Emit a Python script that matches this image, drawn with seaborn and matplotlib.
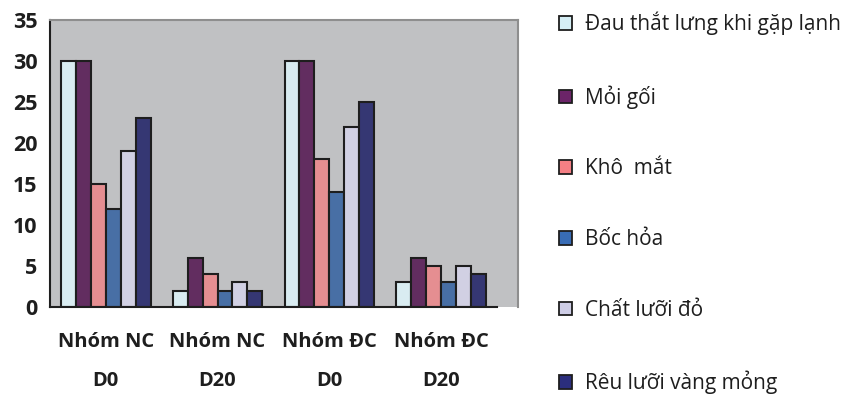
import pandas as pd
import numpy as np
import matplotlib
matplotlib.use("Agg")
import matplotlib.pyplot as plt
import seaborn as sns

# du lieu doc tu bieu do
groups = ["Nhóm NC\nD0", "Nhóm NC\nD20", "Nhóm ĐC\nD0", "Nhóm ĐC\nD20"]
symptoms = ["Đau thắt lưng khi gặp lạnh", "Mỏi gối", "Khô  mắt",
            "Bốc hỏa", "Chất lưỡi đỏ", "Rêu lưỡi vàng mỏng"]
dau_that_lung = [30, 2, 30, 3]
moi_goi = [30, 6, 30, 6]
kho_mat = [15, 4, 18, 5]
boc_hoa = [12, 2, 14, 3]
chat_luoi_do = [19, 3, 22, 5]
reu_luoi = [23, 2, 25, 4]
colors = ["#D5EEF5", "#6B2468", "#F47F84", "#386CB5", "#CECDE6", "#2B2E7D"]

series = [dau_that_lung, moi_goi, kho_mat, boc_hoa, chat_luoi_do, reu_luoi]
df = pd.DataFrame([(g, s, v) for s, vals in zip(symptoms, series)
                   for g, v in zip(groups, vals)],
                  columns=["group", "symptom", "value"])

sns.set_style("white")
plt.rcParams['font.family'] = ['Open Sans', 'DejaVu Sans']

fig = plt.figure(figsize=(8.53, 3.94), dpi=100)
ax = fig.add_axes([0.0586, 0.221, 0.5486, 0.728])
ax.set_facecolor("#C0C1C3")

sns.barplot(data=df, x="group", y="value", hue="symptom", order=groups,
            hue_order=symptoms, palette=colors, width=0.8,
            edgecolor="#1E1E1E", linewidth=1.5, ax=ax, legend=False)

ax.set_xlim(-0.5, 3.69)
ax.set_ylim(0, 35)
ax.set_yticks(range(0, 36, 5))
ax.set_xlabel("")
ax.set_ylabel("")

# nhan truc x hai dong
ax.set_xticks(range(len(groups)))
ax.set_xticklabels(groups, fontsize=14.5, fontweight="bold", linespacing=2.3)
ax.tick_params(axis="x", length=0, pad=18, labelcolor="#1E1E1E")
ax.set_xticks(np.arange(-0.5, 4, 1), minor=True)
ax.tick_params(axis="x", which="minor", length=6, width=1.5, direction="out",
               color="#1E1E1E")
ax.tick_params(axis="y", length=6, width=1.5, direction="out",
               color="#1E1E1E", labelsize=15.5, pad=3, labelcolor="#1E1E1E")
for t in ax.get_yticklabels():
    t.set_fontweight("bold")

for side in ["left", "bottom"]:
    ax.spines[side].set_color("#1E1E1E")
    ax.spines[side].set_linewidth(1.5)
for side in ["top", "right"]:
    ax.spines[side].set_visible(True)
    ax.spines[side].set_color("#8E8E8E")
    ax.spines[side].set_linewidth(1.5)
ax.spines["bottom"].set_bounds(-0.5, 3.5)

# chu giai ben phai
handles = [plt.Rectangle((0, 0), 1, 1, facecolor=c, edgecolor="#1E1E1E",
                         linewidth=1.3) for c in colors]
fig.legend(handles, symptoms, loc="upper left", bbox_to_anchor=(0.655, 0.970),
           frameon=False, fontsize=15, handlelength=0.62, handleheight=0.62,
           handletextpad=0.62, labelspacing=2.39, borderpad=0, borderaxespad=0,
           labelcolor="#1E1E1E")

fig.savefig("out.png", dpi=100)
